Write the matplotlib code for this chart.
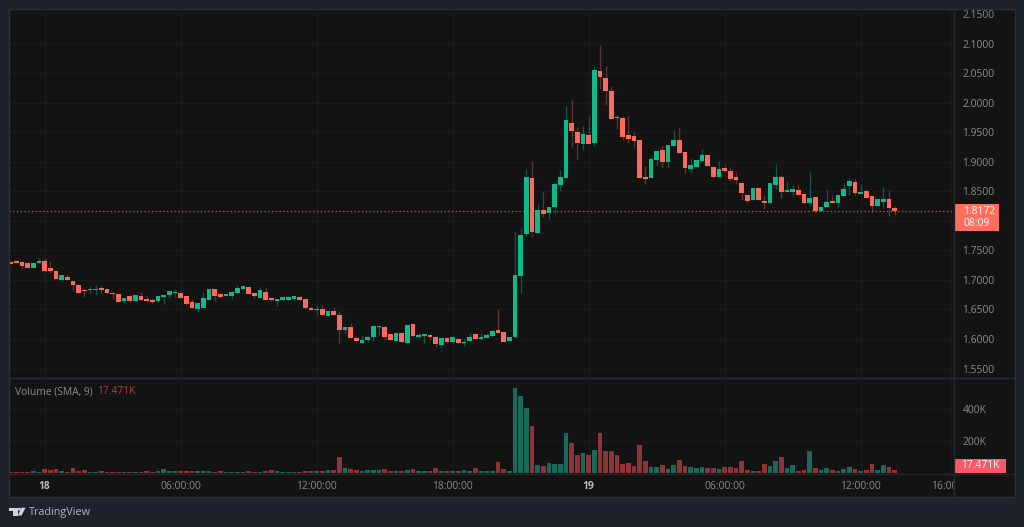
import numpy as np
import matplotlib
matplotlib.use('Agg')
import matplotlib.pyplot as plt
from matplotlib.patches import Rectangle, Polygon, Circle
from matplotlib.transforms import Bbox, TransformedBbox

plt.rcParams['font.family'] = ['Open Sans', 'DejaVu Sans']

# 15 minute candles
opens = [
    1.7311, 1.7328, 1.7311, 1.7294, 1.7209, 1.7288, 1.7328, 1.7209, 1.7147, 1.7000,
    1.7051, 1.6989, 1.6915, 1.6830, 1.6830, 1.6830, 1.6864, 1.6842, 1.6785, 1.6757,
    1.6638, 1.6729, 1.6650, 1.6729, 1.6678, 1.6667, 1.6638, 1.6717, 1.6746, 1.6785,
    1.6774, 1.6729, 1.6627, 1.6508, 1.6531, 1.6667, 1.6842, 1.6763, 1.6729, 1.6729,
    1.6785, 1.6842, 1.6876, 1.6774, 1.6694, 1.6802, 1.6694, 1.6649, 1.6666, 1.6666,
    1.6677, 1.6711, 1.6683, 1.6525, 1.6491, 1.6508, 1.6389, 1.6480, 1.6406, 1.6158,
    1.6203, 1.6011, 1.5937, 1.5982, 1.6028, 1.6208, 1.6203, 1.6084, 1.5966, 1.6101,
    1.5937, 1.6248, 1.6039, 1.6050, 1.6062, 1.6028, 1.5898, 1.6011, 1.5954, 1.5994,
    1.5926, 1.5971, 1.6084, 1.5999, 1.6016, 1.6056, 1.6146, 1.6112, 1.5971, 1.6028,
    1.7062, 1.7774, 1.8734, 1.7790, 1.8180, 1.8141, 1.8242, 1.8604, 1.8734, 1.9666,
    1.9508, 1.9305, 1.9463, 1.9316, 2.0542, 2.0423, 2.0203, 1.9768, 1.9740, 1.9452,
    1.9435, 1.9373, 1.8745, 1.8734, 1.9039, 1.9198, 1.8994, 1.9271, 1.9373, 1.9170,
    1.8876, 1.8921, 1.9011, 1.9119, 1.8910, 1.8746, 1.8893, 1.8853, 1.8751, 1.8639,
    1.8446, 1.8356, 1.8559, 1.8333, 1.8299, 1.8616, 1.8740, 1.8486, 1.8497, 1.8520,
    1.8458, 1.8311, 1.8412, 1.8164, 1.8237, 1.8333, 1.8311, 1.8429, 1.8588, 1.8661,
    1.8458, 1.8503, 1.8429, 1.8254, 1.8328, 1.8373, 1.8215,
]
closes = [
    1.7277, 1.7294, 1.7243, 1.7209, 1.7282, 1.7328, 1.7158, 1.7147, 1.7017, 1.7079,
    1.7000, 1.6915, 1.6780, 1.6819, 1.6853, 1.6853, 1.6830, 1.6780, 1.6757, 1.6621,
    1.6701, 1.6650, 1.6746, 1.6667, 1.6644, 1.6627, 1.6729, 1.6746, 1.6814, 1.6802,
    1.6695, 1.6593, 1.6525, 1.6610, 1.6695, 1.6842, 1.6729, 1.6712, 1.6763, 1.6802,
    1.6859, 1.6904, 1.6768, 1.6729, 1.6830, 1.6655, 1.6655, 1.6677, 1.6711, 1.6711,
    1.6728, 1.6655, 1.6525, 1.6491, 1.6508, 1.6412, 1.6480, 1.6406, 1.6158, 1.6203,
    1.6011, 1.5971, 1.5988, 1.6028, 1.6220, 1.6220, 1.6028, 1.5982, 1.6101, 1.5954,
    1.6237, 1.6045, 1.6073, 1.6079, 1.6028, 1.5915, 1.6011, 1.5954, 1.6028, 1.5937,
    1.5949, 1.6028, 1.5999, 1.6028, 1.6073, 1.6129, 1.6101, 1.5943, 1.6028, 1.7079,
    1.7762, 1.8745, 1.7819, 1.8180, 1.8118, 1.8237, 1.8621, 1.8745, 1.9711, 1.9531,
    1.9327, 1.9474, 1.9305, 2.0553, 2.0435, 2.0203, 1.9723, 1.9740, 1.9429, 1.9384,
    1.9361, 1.8734, 1.8706, 1.9050, 1.9186, 1.8994, 1.9288, 1.9373, 1.9153, 1.8893,
    1.8955, 1.9040, 1.9113, 1.8932, 1.8746, 1.8881, 1.8848, 1.8718, 1.8689, 1.8475,
    1.8339, 1.8559, 1.8356, 1.8311, 1.8644, 1.8740, 1.8486, 1.8520, 1.8542, 1.8441,
    1.8311, 1.8390, 1.8164, 1.8237, 1.8328, 1.8311, 1.8435, 1.8542, 1.8678, 1.8475,
    1.8492, 1.8396, 1.8254, 1.8373, 1.8373, 1.8226, 1.8172,
]
highs = [
    1.7316, 1.7333, 1.7316, 1.7294, 1.7282, 1.7367, 1.7367, 1.7322, 1.7147, 1.7079,
    1.7107, 1.6989, 1.6915, 1.6859, 1.6898, 1.6915, 1.6915, 1.6853, 1.6802, 1.6757,
    1.6701, 1.6746, 1.6746, 1.6791, 1.6729, 1.6689, 1.6740, 1.6746, 1.6814, 1.6842,
    1.6814, 1.6729, 1.6672, 1.6610, 1.6802, 1.6842, 1.6842, 1.6785, 1.6763, 1.6802,
    1.6915, 1.6904, 1.6876, 1.6774, 1.6886, 1.6858, 1.6717, 1.6677, 1.6728, 1.6728,
    1.6728, 1.6723, 1.6683, 1.6547, 1.6570, 1.6593, 1.6480, 1.6536, 1.6480, 1.6203,
    1.6276, 1.6056, 1.6073, 1.6050, 1.6237, 1.6220, 1.6220, 1.6084, 1.6118, 1.6101,
    1.6237, 1.6259, 1.6096, 1.6079, 1.6084, 1.6028, 1.6011, 1.6028, 1.6028, 1.5994,
    1.5999, 1.6096, 1.6084, 1.6096, 1.6096, 1.6152, 1.6508, 1.6112, 1.6028, 1.7819,
    1.7875, 1.8881, 1.9017, 1.8288, 1.8502, 1.8237, 1.8655, 1.8864, 1.9943, 2.0045,
    1.9593, 1.9610, 1.9796, 2.0627, 2.0977, 2.0627, 2.0288, 1.9802, 1.9779, 1.9796,
    1.9508, 1.9373, 1.8937, 1.9101, 1.9186, 1.9288, 1.9288, 1.9542, 1.9588, 1.9170,
    1.9068, 1.9040, 1.9215, 1.9119, 1.8910, 1.9023, 1.8966, 1.8910, 1.8825, 1.8639,
    1.8463, 1.8559, 1.8559, 1.8435, 1.8644, 1.8966, 1.8780, 1.8678, 1.8605, 1.8605,
    1.8458, 1.8825, 1.8412, 1.8237, 1.8537, 1.8446, 1.8435, 1.8650, 1.8723, 1.8706,
    1.8616, 1.8542, 1.8429, 1.8373, 1.8582, 1.8520, 1.8254,
]
lows = [
    1.7271, 1.7288, 1.7192, 1.7209, 1.7209, 1.7288, 1.7141, 1.7124, 1.7017, 1.6977,
    1.7000, 1.6819, 1.6780, 1.6712, 1.6785, 1.6746, 1.6785, 1.6768, 1.6678, 1.6621,
    1.6604, 1.6627, 1.6650, 1.6667, 1.6627, 1.6616, 1.6627, 1.6593, 1.6695, 1.6706,
    1.6695, 1.6559, 1.6525, 1.6480, 1.6531, 1.6667, 1.6638, 1.6689, 1.6729, 1.6683,
    1.6785, 1.6842, 1.6768, 1.6695, 1.6694, 1.6655, 1.6638, 1.6564, 1.6649, 1.6649,
    1.6644, 1.6644, 1.6502, 1.6491, 1.6395, 1.6412, 1.6389, 1.6406, 1.5937, 1.6084,
    1.6011, 1.5949, 1.5932, 1.5949, 1.5971, 1.6067, 1.5988, 1.5982, 1.5960, 1.5954,
    1.5937, 1.6033, 1.6028, 1.5937, 1.5988, 1.5858, 1.5853, 1.5937, 1.5937, 1.5937,
    1.5881, 1.5971, 1.5999, 1.5999, 1.6016, 1.6056, 1.6101, 1.5943, 1.5971, 1.6028,
    1.6773, 1.7751, 1.7734, 1.7790, 1.8073, 1.8033, 1.8141, 1.8514, 1.8734, 1.9259,
    1.9056, 1.9203, 1.9305, 1.9276, 2.0231, 1.9971, 1.9723, 1.9565, 1.9372, 1.9316,
    1.9259, 1.8734, 1.8632, 1.8734, 1.8949, 1.8904, 1.8921, 1.9271, 1.9153, 1.8819,
    1.8819, 1.8921, 1.9011, 1.8932, 1.8746, 1.8746, 1.8831, 1.8684, 1.8633, 1.8356,
    1.8316, 1.8356, 1.8356, 1.8209, 1.8299, 1.8542, 1.8390, 1.8486, 1.8429, 1.8441,
    1.8311, 1.8271, 1.8141, 1.8164, 1.8237, 1.8311, 1.8232, 1.8429, 1.8441, 1.8441,
    1.8458, 1.8396, 1.8158, 1.8254, 1.8220, 1.8085, 1.8107,
]
# volume in thousands
volumes = [
    5, 6, 6, 6, 15, 9, 27, 16, 27, 14,
    9, 29, 15, 21, 7, 7, 13, 8, 8, 6,
    6, 7, 7, 8, 13, 8, 13, 27, 13, 11,
    13, 13, 13, 13, 13, 13, 7, 13, 8, 7,
    7, 7, 13, 4, 7, 13, 19, 13, 9, 9,
    9, 4, 13, 13, 13, 13, 21, 17, 99, 32,
    23, 17, 15, 16, 16, 16, 23, 12, 11, 12,
    21, 25, 12, 12, 12, 29, 12, 12, 12, 12,
    19, 12, 29, 12, 12, 12, 67, 25, 12, 536,
    483, 412, 294, 50, 44, 61, 55, 55, 250, 189,
    113, 126, 113, 147, 250, 137, 137, 111, 55, 65,
    44, 174, 78, 38, 38, 50, 23, 50, 84, 44,
    38, 29, 38, 32, 32, 27, 38, 38, 32, 76,
    21, 15, 15, 55, 44, 76, 99, 32, 48, 15,
    21, 141, 32, 21, 32, 21, 11, 27, 38, 27,
    15, 21, 55, 21, 48, 38, 17.471,
]

price_ticks = [1.55, 1.60, 1.65, 1.70, 1.75, 1.80, 1.85, 1.90, 1.95, 2.00, 2.05, 2.10, 2.15]
# 1.8000 sits under the last price tag, so it gets no label
price_labels = ['1.5500', '1.6000', '1.6500', '1.7000', '1.7500', '', '1.8500',
                '1.9000', '1.9500', '2.0000', '2.0500', '2.1000', '2.1500']
volume_ticks = [200, 400]
time_ticks = [6, 30, 54, 78, 102, 126, 150, 166]
time_labels = ['18', '06:00:00', '12:00:00', '18:00:00', '19', '06:00:00', '12:00:00', '16:00:00']
last_price = '1.8172'
countdown = '08:09'
last_volume = '17.471K'

BG = '#1e222d'
PANE = '#131313'
GRID = '#1a1a1a'
EDGE = '#2a2e39'
SEP = '#282828'
TEXT = '#8b8b8b'
UP = '#0fb98a'
DOWN = '#fb6a5a'
UP_WICK = '#0d5544'
DOWN_WICK = '#5b3431'
UP_VOL = '#1a6a5b'
DOWN_VOL = '#8e3439'
FS = 7.4

W, H = 1024, 527
fig = plt.figure(figsize=(W / 100, H / 100), dpi=100, facecolor=BG)


def pane(x0, y0, x1, y1):
    return fig.add_axes([x0 / W, 1 - y1 / H, (x1 - x0) / W, (y1 - y0) / H])


# whole pane background sits under the price and volume axes
back = pane(9, 9, 1015, 497)
back.set_facecolor(PANE)
back.set_xticks([])
back.set_yticks([])
for s in back.spines.values():
    s.set_visible(False)

ax = pane(9, 9, 954, 378)
vol = pane(9, 379, 954, 473)

o = np.array(opens)
c = np.array(closes)
h = np.array(highs)
l = np.array(lows)
v = np.array(volumes)
x = np.arange(len(o))
up = c >= o

for a in (ax, vol):
    a.set_facecolor(PANE)
    a.set_xlim(-0.3, 166.46)
    a.set_xticks(time_ticks)
    a.grid(True, color=GRID, lw=1)
    a.set_axisbelow(True)
    a.yaxis.tick_right()
    a.tick_params(axis='y', length=0, pad=6, labelsize=FS, labelcolor=TEXT)
    a.tick_params(axis='x', length=0)
    for s in a.spines.values():
        s.set_visible(False)

# candles, wicks go behind the bodies
ax.vlines(x[up], l[up], h[up], color=UP_WICK, lw=1, zorder=2)
ax.vlines(x[~up], l[~up], h[~up], color=DOWN_WICK, lw=1, zorder=2)
ax.bar(x[up], (c - o)[up], bottom=o[up], width=0.8, color=UP, lw=0, zorder=3)
ax.bar(x[~up], (o - c)[~up], bottom=c[~up], width=0.8, color=DOWN, lw=0, zorder=3)
ax.axhline(closes[-1], color=DOWN, lw=0.9, ls=(0, (1, 2)), alpha=0.8, zorder=4)
ax.set_ylim(1.5339, 2.1593)
ax.set_yticks(price_ticks)
ax.set_yticklabels(price_labels)
ax.set_xticklabels([])

# volume pane
vol.bar(x, v, width=0.8, color=[UP_VOL if u else DOWN_VOL for u in up], lw=0)
vol.set_ylim(0, 592)
vol.set_yticks(volume_ticks)
vol.set_yticklabels(['%dK' % t for t in volume_ticks])
vol.set_xticklabels(time_labels)
vol.tick_params(axis='x', pad=6, labelsize=FS, labelcolor=TEXT)
clip = TransformedBbox(Bbox([[0, 0], [954 / W, 1]]), fig.transFigure)
for t, name in zip(vol.get_xticklabels(), time_labels):
    t.set_clip_box(clip)
    t.set_clip_on(True)
    if name in ('18', '19'):
        t.set_fontweight('bold')
        t.set_color('#b8b8b8')

# pixel layer for the frame, price tags and logo
top = fig.add_axes([0, 0, 1, 1], facecolor='none')
top.set_xlim(0, W)
top.set_ylim(H, 0)
top.axis('off')
top.add_patch(Rectangle((8.5, 8.5), 1006.5, 488.5, fill=False, ec=EDGE, lw=1))
top.plot([9, 1015], [378, 378], color=EDGE, lw=1)
top.plot([9, 1015], [473.5, 473.5], color=SEP, lw=1)
top.plot([954, 954], [9, 497], color=SEP, lw=1)

top.add_patch(Rectangle((954, 204), 45, 27, fc='#fd6e5e', ec='none'))
top.text(963, 217.5, last_price + '\n' + countdown, color='#ffffff', fontsize=FS,
         va='center', linespacing=1.25)
top.add_patch(Rectangle((954, 459), 52, 14, fc='#f9586c', ec='none'))
top.text(980, 466, last_volume, color='#ffffff', fontsize=FS, va='center', ha='center')

top.text(15, 392, 'Volume (SMA, 9)', color=TEXT, fontsize=FS, va='center')
top.text(97, 392, last_volume, color='#a93a46', fontsize=FS, va='center')

top.add_patch(Polygon([(8.5, 507.7), (17.5, 507.7), (17.5, 515.5), (12.5, 515.5),
                       (12.5, 510.5), (8.5, 510.5)], fc='#d1d4dc', ec='none'))
top.add_patch(Circle((19.4, 509.2), 1.5, fc='#d1d4dc', ec='none'))
top.add_patch(Polygon([(21.5, 507.7), (25.5, 507.7), (21.5, 515.5), (17.8, 515.5)],
                      fc='#d1d4dc', ec='none'))
top.text(29, 512.5, 'TradingView', color='#b2b5be', fontsize=7.8, va='center')

fig.savefig('out.png', dpi=100, facecolor=BG)
